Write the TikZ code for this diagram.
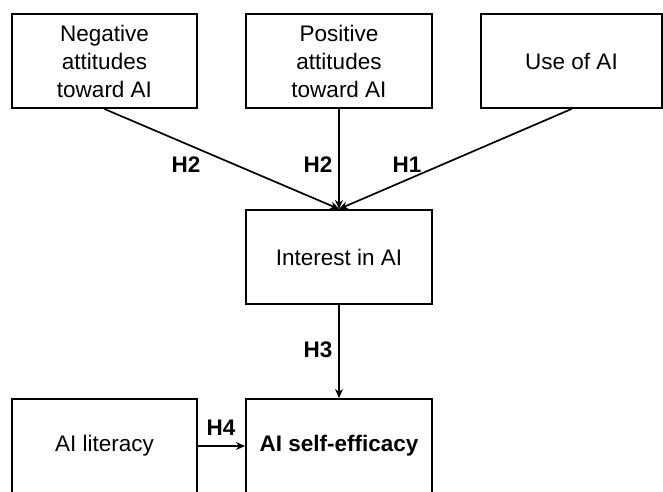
\documentclass[tikz,border=0pt]{standalone}
\usepackage{fontspec}
\setmainfont{Liberation Sans}
\usetikzlibrary{arrows.meta}
\begin{document}
\begin{tikzpicture}[x=1pt,y=-1pt,
  box/.style={draw=black,line width=2pt,minimum width=185pt,minimum height=94pt,inner sep=0pt,align=center,font=\fontsize{22.5}{28}\selectfont},
  lab/.style={font=\fontsize{22.5}{26}\selectfont\bfseries,inner sep=0pt},
  arr/.style={line width=1.7pt,-{Stealth[length=9pt,width=8pt]}}]
\clip (0,0) rectangle (663,491);
\fill[white] (0,0) rectangle (663,491);
\node[box] (neg) at (104.5,61) {Negative\\attitudes\\toward AI};
\node[box,minimum width=186pt] (pos) at (339,61) {Positive\\attitudes\\toward AI};
\node[box,minimum width=181pt] (use) at (571.5,61) {Use of AI};
\node[box,minimum width=186pt] (int) at (339,257) {Interest in AI};
\node[box] (lit) at (104.5,446) {AI literacy};
\node[box,minimum width=186pt] (eff) at (339,446) {\textbf{AI self-efficacy}};
\draw[arr] (neg.south) -- (int.north);
\draw[arr] (pos.south) -- (int.north);
\draw[arr] (use.south) -- (int.north);
\draw[arr] (int.south) -- (eff.north);
\draw[arr] (lit.east) -- (eff.west);
\node[lab] (h2a) at (186,165) {H2};
\node[lab] (h2b) at (318,165) {H2};
\node[lab] (h1) at (407,165) {H1};
\node[lab] (h3) at (318,350) {H3};
\node[lab] (h4) at (221,428) {H4};
\end{tikzpicture}
\end{document}
